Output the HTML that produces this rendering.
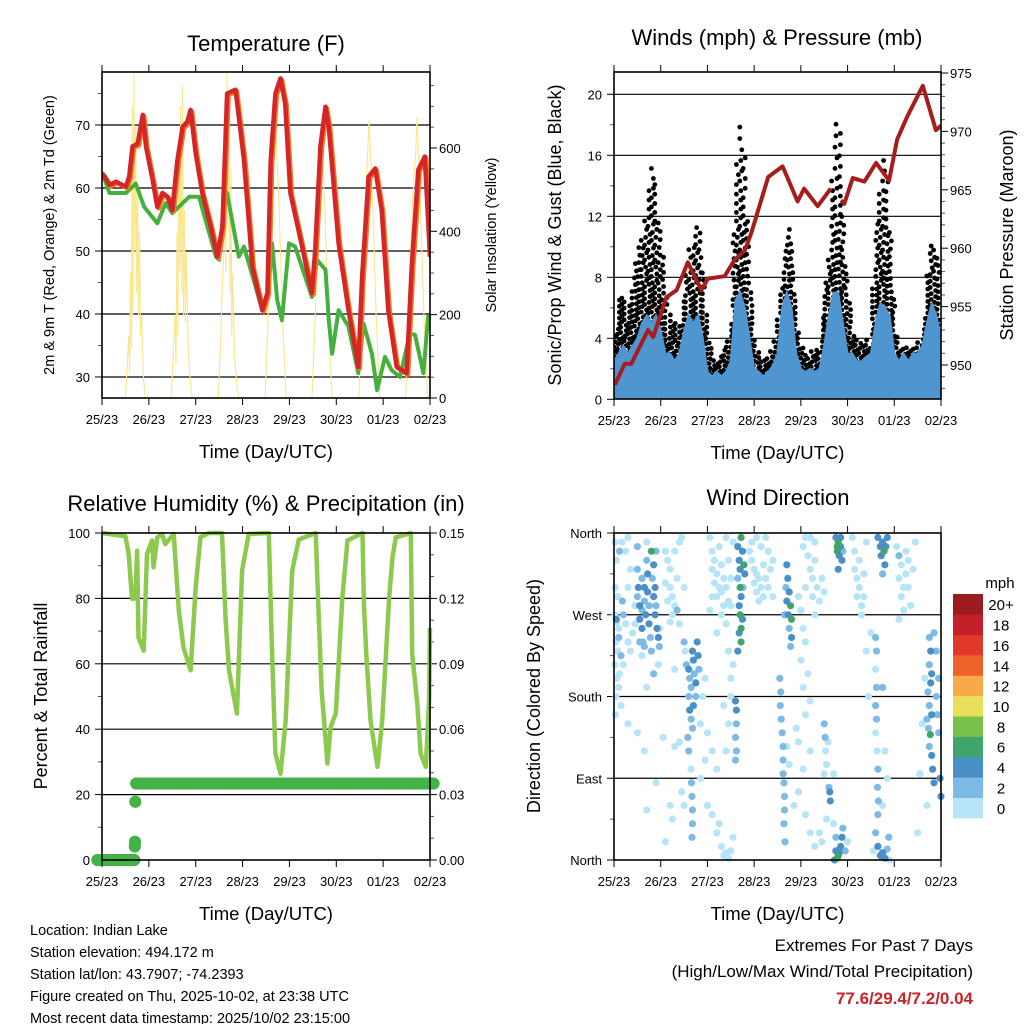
<!DOCTYPE html>
<html><head><meta charset="utf-8"><style>
html,body{margin:0;padding:0;background:#fff;}
svg{display:block;font-family:"Liberation Sans",Arial,sans-serif;}
</style></head><body>
<svg id="c" width="1024" height="1024" viewBox="0 0 1024 1024" xmlns="http://www.w3.org/2000/svg">
<defs>
<clipPath id="cp1"><rect x="102" y="72" width="328" height="326"/></clipPath>
<clipPath id="cp2"><rect x="614" y="72" width="327" height="327"/></clipPath>
<clipPath id="cp3"><rect x="90" y="520" width="350" height="350"/></clipPath>
<clipPath id="cp4"><rect x="610" y="529" width="335" height="335"/></clipPath>
</defs>
<g id="g1"></g>
<g id="g2"></g>
<g id="g3"></g>
<g id="g4"></g>
<g font-size="14.5" fill="#000">
<text x="30" y="935">Location: Indian Lake</text>
<text x="30" y="957">Station elevation: 494.172 m</text>
<text x="30" y="979">Station lat/lon: 43.7907; -74.2393</text>
<text x="30" y="1001">Figure created on Thu, 2025-10-02, at 23:38 UTC</text>
<text x="30" y="1023">Most recent data timestamp: 2025/10/02 23:15:00</text>
</g>
<g text-anchor="end">
<text x="973" y="951" font-size="17">Extremes For Past 7 Days</text>
<text x="973" y="977" font-size="17">(High/Low/Max Wind/Total Precipitation)</text>
<text x="973" y="1004" font-size="17" font-weight="bold" fill="#c8232a">77.6/29.4/7.2/0.04</text>
</g>
</svg>
<script>
// ---------- DATA ----------
const dayLabels = ["25/23","26/23","27/23","28/23","29/23","30/23","01/23","02/23"];
const tempT = [0.01,0.16,0.3,0.51,0.58,0.65,0.76,0.87,0.94,1.08,1.18,1.29,1.40,1.50,1.61,1.72,1.82,1.89,2.0,2.14,2.32,2.46,2.57,2.67,2.85,2.92,3.03,3.21,3.42,3.53,3.6,3.70,3.81,3.91,4.02,4.27,4.48,4.55,4.66,4.77,4.84,5.05,5.26,5.47,5.55,5.69,5.83,5.97,6.11,6.29,6.50,6.61,6.75,6.89,7.0];
const tempV = [62.3,60.5,61,60.2,61.8,66.6,67,71.6,66.6,61.3,57,59.2,58.6,56.5,64.4,69.7,70.5,72.4,65.5,59.2,53.9,49.1,53.9,75,75.6,71.3,64.4,47.5,40.6,43.3,64.4,75,77.4,73.4,59.2,50.7,43.3,50.2,66.6,72.9,69.7,51.2,40.6,31.6,45.9,61.8,63.1,56.5,40.6,31.6,30.6,47.5,62.9,65,49.1];
const dewT = [0.01,0.16,0.51,0.72,0.9,1.18,1.36,1.5,1.86,2.07,2.21,2.43,2.5,2.6,2.67,2.92,3.03,3.42,3.53,3.63,3.74,3.84,3.99,4.12,4.48,4.59,4.77,4.84,4.91,5.05,5.26,5.47,5.58,5.76,5.87,6.04,6.18,6.36,6.57,6.68,6.86,6.96];
const dewV = [62.3,59.2,59.2,60.7,57,54.4,57.6,56,58.6,58.6,54.9,49.1,48.6,56.5,59.2,49.1,50.7,40.6,42.2,51.2,42.2,39,51.2,50.7,42.7,48.6,47,39,33.7,40.6,38,30.6,38.5,33.7,27.9,33.2,31.1,30,36.9,36.7,30.6,39.6];
const solarT = [0.50,0.54,0.57,0.59,0.61,0.63,0.645,0.66,0.68,0.70,0.72,0.74,0.76,0.78,0.80,0.82,0.85,0.88,0.92,
 1.48,1.52,1.56,1.58,1.60,1.62,1.64,1.66,1.68,1.70,1.72,1.74,1.76,1.78,1.80,1.84,1.88,1.92,
 2.48,2.53,2.56,2.60,2.62,2.64,2.66,2.67,2.69,2.71,2.73,2.75,2.77,2.79,2.83,2.88,2.92,
 3.48,3.55,3.62,3.70,3.78,3.85,3.93,
 4.48,4.55,4.62,4.68,4.76,4.83,4.91,
 5.48,5.55,5.62,5.70,5.78,5.85,5.93,
 6.48,6.55,6.62,6.70,6.72,6.74,6.80,6.87,6.95];
const solarV = [0,80,150,60,300,120,700,200,780,350,650,250,500,200,400,150,200,60,0,
 0,100,200,80,400,150,550,300,700,250,750,200,450,180,350,120,50,0,
 0,120,250,350,500,300,650,780,400,700,250,550,150,300,100,30,0,
 0,200,460,671,460,200,0,
 0,190,440,645,440,190,0,
 0,200,460,667,460,200,0,
 0,200,460,600,675,620,450,200,0];
const windT = [];
for (let i = 0; i <= 70; i++) windT.push(i / 10);
const windV = [2.5,3,3.5,3,3.5,4,5,5.5,5,5.5,4.5,3,3,2.5,3,4.5,5.5,5,5.5,4,1.8,1.5,1.8,1.5,1.8,2.5,6.5,7,6,4,2,1.8,1.5,1.8,2.2,3,6,7,6,3,2,1.8,2,1.8,2,3.5,5.5,7,7,5,3,3,2.5,2.5,2.8,3,5,6.3,6,5.5,3,2.5,3,2.5,3,3,3.5,5,6.3,5.5,4];
const gustHi = [3.5,6.8,7,6,7.5,10,10.5,12.7,15.7,14,11,7,5.5,5,5,7,10,10.5,12.3,9,5,3,2.5,3,3.5,5,14,18.7,16,9,4,3,2.5,3,3.5,5,8,11.5,11,6,3.5,3,3,3.5,3,7,9,16.5,19.5,12,8,4.5,4,3.5,4,3.5,11,14,17,12,6,3.5,3.5,3.5,3.5,4,3.5,8,10.8,9.5,9];
const gustLo = [1.5,2,2,2,2,2.5,3,3,3,3,2.5,1,1,1,1,2,2,2,2,2,1,0.5,0.5,0.5,0.5,0.8,3,3,3,2,0.8,0.5,0.5,0.5,0.5,1,2.5,3,3,1.5,0.8,0.5,0.5,0.5,0.5,1,3,3,3,2.5,1.5,1.5,1.5,1.5,1.5,1.5,3,3,3,2.5,1,1,1,1,1,1,1.5,2.5,3,3,2.5];
const presT = [0.02,0.23,0.37,0.73,0.84,1.12,1.34,1.58,1.87,2.01,2.37,2.58,2.8,2.94,3.3,3.61,3.93,4.07,4.36,4.64];
const presV = [948.3,950.1,950.1,953,952.4,955.8,956.4,958.8,956.4,957.4,957.6,959,959.8,961.3,966.1,967,964,965.1,963.6,965.1];
const presT2 = [4.86,4.93,5.11,5.36,5.61,5.89,6.06,6.28,6.61,6.89,7.0];
const presV2 = [964.1,963.8,966,965.7,967.3,965.8,969.3,971.3,973.9,970.1,970.5];
const rhT = [0,0.5,0.57,0.64,0.71,0.75,0.78,0.89,0.96,1.07,1.1,1.18,1.28,1.35,1.53,1.64,1.74,1.89,2.0,2.1,2.28,2.56,2.64,2.71,2.88,2.99,3.13,3.56,3.63,3.7,3.81,3.92,4.06,4.2,4.56,4.63,4.69,4.74,4.81,4.88,4.99,5.13,5.24,5.56,5.59,5.64,5.73,5.88,5.98,6.13,6.2,6.27,6.59,6.62,6.73,6.8,6.91,6.98,7.0];
const rhV = [100,99,93.6,79.9,80,94.6,68,64,93.6,97.7,89.5,98.7,99.7,96.6,99.7,76.3,65,58,83.4,98.7,100,100,73,58,44.8,88.5,99.7,100,63,32.6,26.4,42.7,88.5,98,100,73,50.9,42.7,29.5,40.7,44.8,80.4,97.7,100,78.3,63,42.7,28.5,42.7,80.4,92.6,98.7,100,63,47.8,32.6,28.5,48.8,71];
const precipT = [-0.1,0.69,0.70,0.705,0.71,0.73,7.08];
const precipV = [0,0,0.0062,0.0084,0.0267,0.0351,0.0351];
const dirPts = [[0.02,350,1],[0.05,330,1],[0.03,300,1],[0.08,290,1],[0.02,270,1],[0.06,262,1],[0.1,255,1],[0.04,240,1],[0.08,230,1],[0.02,215,1],[0.12,205,1],[0.06,200,1],[0.1,190,1],[0.04,180,1],[0.15,170,1],[0.03,160,1],[0.25,340,1],[0.3,355,1],[0.35,320,1],[0.3,300,1],[0.18,285,3],[0.2,270,3],[0.25,260,1],[0.1,245,3],[0.15,225,3],[0.2,215,1],[0.3,240,1],[0.35,230,1],[0.05,265,5],[0.12,340,3],[0.17,350,1],
[0.5,345,3],[0.5,320,3],[0.52,300,5],[0.5,290,3],[0.55,280,5],[0.55,265,5],[0.6,275,3],[0.6,255,5],[0.62,240,3],[0.65,300,5],[0.65,285,3],[0.68,270,5],[0.7,330,3],[0.72,315,5],[0.72,295,5],[0.75,280,3],[0.75,260,5],[0.78,245,3],[0.8,340,7],[0.82,310,3],[0.85,325,5],[0.85,290,5],[0.88,300,5],[0.88,270,5],[0.9,280,3],[0.92,255,5],[0.95,245,5],[0.97,235,3],[0.8,230,3],[0.7,350,1],[0.9,340,3],[0.6,310,3],[0.98,255,1],[0.45,260,1],[0.4,250,1],[0.45,280,1],[0.55,240,3],[0.6,225,1],[0.65,235,3],[0.95,215,1],[0.7,190,1],[0.85,205,3],[0.3,150,1],[0.5,140,1],[0.65,120,1],[0.9,85,1],[0.7,55,1],
[1.1,340,1],[1.15,330,1],[1.2,320,1],[1.1,305,1],[1.2,300,1],[1.25,290,1],[1.15,285,1],[1.3,340,1],[1.35,310,1],[1.3,280,1],[1.4,350,1],[1.45,355,1],[1.25,270,1],[1.35,275,3],[1.2,262,1],[1.5,300,1],[1.4,260,1],
[1.5,240,3],[1.52,230,1],[1.55,215,3],[1.6,210,5],[1.62,200,3],[1.65,190,3],[1.68,230,5],[1.7,220,5],[1.72,205,3],[1.75,195,5],[1.75,180,3],[1.78,240,5],[1.8,225,5],[1.82,210,3],[1.6,180,3],[1.62,165,5],[1.65,155,3],[1.68,145,3],[1.7,170,5],[1.58,135,3],[1.6,120,3],[1.65,100,1],[1.66,85,3],[1.67,70,3],[1.68,55,3],[1.68,40,3],[1.67,25,3],[1.5,60,1],[1.45,75,1],[1.4,130,1],[1.3,125,1],[1.2,60,1],[1.25,45,1],[1.1,20,1],[1.05,135,1],[1.85,150,1],[1.9,180,1],[1.95,200,1],[1.85,90,1],[1.95,110,1],[1.3,210,1],
[2.05,355,1],[2.1,340,1],[2.15,330,1],[2.1,320,1],[2.2,315,1],[2.25,300,1],[2.2,290,1],[2.15,305,1],[2.3,325,1],[2.35,310,1],[2.3,295,1],[2.4,300,1],[2.45,285,1],[2.35,280,1],[2.25,345,1],[2.4,355,1],[2.45,330,1],[2.5,310,1],[2.1,290,1],[2.05,275,1],[2.3,270,1],[2.5,280,1],[2.55,350,1],[2.2,250,1],[2.4,260,1],
[2.65,345,5],[2.68,330,5],[2.7,320,5],[2.72,355,7],[2.65,310,3],[2.7,300,7],[2.72,290,5],[2.68,280,5],[2.7,270,7],[2.75,265,5],[2.72,255,7],[2.68,250,5],[2.72,240,7],[2.76,300,3],[2.75,340,5],[2.78,325,7],[2.8,315,5],[2.65,230,5],
[2.6,175,5],[2.62,165,5],[2.62,150,3],[2.6,135,3],[2.62,120,3],[2.6,110,3],[2.5,180,1],[2.45,150,1],[2.4,120,1],
[2.2,30,1],[2.3,15,1],[2.35,5,1],[2.4,8,1],[2.45,2,1],[2.5,10,1],[2.25,40,1],[2.0,60,1],[2.1,50,1],[2.55,25,1],[2.2,100,1],[2.1,120,1],[2.0,140,1],[2.35,170,1],[2.5,200,1],[2.55,215,1],[2.45,230,1],
[2.9,340,1],[2.95,330,1],[3.0,320,1],[3.05,315,1],[3.0,305,1],[3.1,310,1],[3.15,300,1],[3.05,295,1],[3.2,325,1],[3.25,310,1],[3.2,290,1],[3.1,285,1],[3.3,300,1],[3.35,320,1],[3.3,340,1],[2.95,350,1],[3.15,345,1],[3.4,330,1],[3.4,290,1],[3.05,355,1],[3.25,355,1],
[3.7,325,5],[3.72,310,5],[3.75,295,5],[3.7,285,5],[3.78,280,7],[3.73,270,5],[3.8,265,7],[3.75,255,3],[3.8,245,5],[3.78,235,3],[3.68,300,3],[3.65,270,3],
[3.55,200,3],[3.57,185,3],[3.56,170,3],[3.58,155,3],[3.6,140,3],[3.62,125,3],[3.62,110,3],[3.62,95,3],[3.64,85,3],[3.65,70,3],[3.65,55,3],[3.64,40,3],[3.66,20,3],[3.7,125,1],[3.75,105,1],
[3.95,290,1],[4.0,275,1],[4.05,255,1],[4.1,240,1],[4.0,220,1],[4.15,205,1],[4.05,190,1],[4.2,175,1],[4.1,160,1],[3.9,145,1],[3.95,130,1],[4.2,120,1],[4.05,100,1],[3.85,60,1],[3.95,75,1],[4.1,50,1],[4.2,30,1],[4.3,15,1],[4.3,270,1],[4.1,300,1],
[4.05,345,1],[4.1,355,1],[4.15,335,1],[4.2,320,1],[4.25,310,1],[4.3,330,1],[4.35,300,1],[4.25,290,1],[4.4,285,1],[4.45,310,1],[4.3,350,1],[4.2,355,1],[4.5,295,1],
[4.75,355,5],[4.78,345,7],[4.8,350,7],[4.82,335,5],[4.85,345,5],[4.88,330,5],[4.85,355,5],[4.9,340,3],[4.8,320,5],[4.78,340,7],
[4.5,150,3],[4.52,135,3],[4.53,120,1],[4.55,105,1],[4.5,95,1],[4.6,80,3],[4.62,75,5],[4.63,65,5],[4.58,130,1],[4.7,95,1],[4.55,45,1],[4.4,30,1],[4.45,20,1],
[4.75,10,5],[4.78,2,7],[4.8,5,7],[4.82,8,5],[4.85,15,5],[4.88,25,5],[4.9,35,3],[4.75,25,3],[4.72,0,5],[4.95,10,3],[4.7,40,1],[5.0,20,1],
[5.15,320,1],[5.2,310,1],[5.25,300,1],[5.2,290,1],[5.3,280,1],[5.35,290,1],[5.25,330,1],[5.15,340,1],[5.3,270,1],[5.4,350,1],[5.1,355,1],[5.35,315,1],
[5.65,355,5],[5.7,345,5],[5.75,350,5],[5.72,335,5],[5.78,340,7],[5.8,325,5],[5.75,315,3],[5.85,355,5],[5.82,345,5],
[5.6,245,3],[5.62,230,3],[5.6,210,1],[5.62,190,3],[5.6,170,3],[5.62,155,3],[5.6,140,1],[5.63,120,1],[5.65,100,3],[5.64,80,3],[5.66,65,3],[5.65,50,3],[5.5,250,1],[5.4,230,1],[5.45,180,1],[5.75,190,3],[5.8,120,1],[5.85,90,1],[5.75,60,1],
[5.65,15,5],[5.7,5,5],[5.75,8,5],[5.8,2,5],[5.85,12,3],[5.88,25,3],[5.6,30,3],[5.55,10,1],[5.9,0,1],
[6.05,345,1],[6.1,335,3],[6.15,325,1],[6.1,310,1],[6.2,300,1],[6.15,290,1],[6.25,315,1],[6.3,330,1],[6.2,275,1],[6.1,265,1],[6.35,280,1],[6.3,300,1],[6.4,320,1],[6.45,350,1],[6.25,340,1],
[6.75,245,3],[6.78,230,5],[6.75,215,3],[6.8,205,5],[6.78,195,5],[6.72,185,3],[6.75,170,3],[6.8,160,5],[6.7,155,3],[6.73,145,3],[6.77,138,7],[6.75,125,3],[6.8,115,5],[6.82,100,5],[6.85,85,5],[6.9,180,3],[6.92,160,3],[6.95,140,3],[6.98,90,5],[7.0,70,5],[6.65,200,1],[6.6,150,1],[6.55,95,1],[6.5,30,1],[6.7,60,1],[6.9,230,3],[6.95,200,3],[6.85,250,3]];
const speedLabels = ["0","2","4","6","8","10","12","14","16","18","20+"];
const speedColors = ["#b8e4f8","#7dbbe6","#4a8fc8","#3fa56a","#78c04a","#e8e05a","#f8a94a","#f0622b","#e0382b","#c4202a","#9b1b1e"];

// ---------- HELPERS ----------
const NS = "http://www.w3.org/2000/svg";
function mk(tag, attrs, parent) {
  const e = document.createElementNS(NS, tag);
  for (const k in attrs) e.setAttribute(k, attrs[k]);
  parent.appendChild(e);
  return e;
}
function txt(parent, x, y, s, size, anchor, rot) {
  const t = mk("text", {x: x, y: y, "font-size": size, "text-anchor": anchor || "middle", fill: "#000"}, parent);
  if (rot) t.setAttribute("transform", "rotate(" + rot + " " + x + " " + y + ")");
  t.textContent = s;
  return t;
}
function interp(T, V, t) {
  if (t <= T[0]) return V[0];
  for (let i = 1; i < T.length; i++) if (t <= T[i]) { const f = (t - T[i-1]) / (T[i] - T[i-1]); return V[i-1] + f * (V[i] - V[i-1]); }
  return V[V.length - 1];
}
function frame(g, P, name) {
  const r = mk("rect", {x: P.x0, y: P.y0, width: P.x1 - P.x0, height: P.y1 - P.y0, fill: "none", stroke: "#000", "stroke-width": 1.6}, g);
  
  
  for (let i = 0; i < dayLabels.length; i++) {
    const x = P.x0 + i * (P.x1 - P.x0) / 7;
    const t1 = mk("line", {x1: x, x2: x, y1: P.y0, y2: P.y0 - 7, stroke: "#000", "stroke-width": 1}, g);
    
    
    const t2 = mk("line", {x1: x, x2: x, y1: P.y1, y2: P.y1 + 7, stroke: "#000", "stroke-width": 1}, g);
    
    
    const l = txt(g, x, P.y1 + 26, dayLabels[i], 13);
    
    
  }
  const xt = txt(g, (P.x0 + P.x1) / 2, P.y1 + 60, "Time (Day/UTC)", 18.5);
  
  
}
function yAxis(g, P, vals, labels, yf, side, grid, minor) {
  for (let i = 0; i < vals.length; i++) {
    const y = yf(vals[i]);
    if (grid && y > P.y0 + 1 && y < P.y1 - 1) {
      const gl = mk("line", {x1: P.x0, x2: P.x1, y1: y, y2: y, stroke: "#000", "stroke-width": 1.2}, g);
      
      
    }
    const xx = side === "L" ? P.x0 : P.x1;
    const tk = mk("line", {x1: xx, x2: side === "L" ? xx - 7 : xx + 7, y1: y, y2: y, stroke: "#000", "stroke-width": 1}, g);
    
    
    const lb = txt(g, side === "L" ? xx - 12 : xx + 9, y + 5, labels[i], 13, side === "L" ? "end" : "start");
    
    
  }
  if (minor) for (const v of minor) {
    const y = yf(v);
    if (y < P.y0 || y > P.y1) continue;
    const xx = side === "L" ? P.x0 : P.x1;
    const mt = mk("line", {x1: xx, x2: side === "L" ? xx - 4 : xx + 4, y1: y, y2: y, stroke: "#555", "stroke-width": 1}, g);
    
    
  }
}
function polyPts(T, V, xf, yf) { return T.map((t, i) => xf(t).toFixed(1) + "," + yf(V[i]).toFixed(1)).join(" "); }

// ---------- PANEL 1: TEMPERATURE ----------
(function () {
  const g = document.getElementById("g1");
  const P = {x0: 102, x1: 430, y0: 72, y1: 398};
  const xf = d => P.x0 + d * (P.x1 - P.x0) / 7;
  const yT = v => 377 - (v - 30) * 6.3;
  const yS = v => 398 - v * 0.4167;
  const tt = txt(g, 266, 51, "Temperature (F)", 22);
  
  
  yAxis(g, P, [30, 40, 50, 60, 70], ["30", "40", "50", "60", "70"], yT, "L", true, [35, 45, 55, 65, 75]);
  yAxis(g, P, [0, 200, 400, 600], ["0", "200", "400", "600"], yS, "R", false, [50,100,150,250,300,350,450,500,550,650,700,750]);
  const c = mk("g", {"clip-path": "url(#cp1)"}, g);
  const sol = mk("polyline", {points: polyPts(solarT, solarV, xf, yS), fill: "none", stroke: "#fae78a", "stroke-width": 1.1}, c);
  
  
  const dew = mk("polyline", {points: polyPts(dewT, dewV, xf, yT), fill: "none", stroke: "#46b03f", "stroke-width": 4, "stroke-linejoin": "round", "stroke-linecap": "round"}, c);
  
  
  const t9 = mk("polyline", {points: polyPts(tempT, tempV, xf, yT), fill: "none", stroke: "#f47b20", "stroke-width": 4.5, "stroke-linejoin": "round", transform: "translate(1.5,1.5)"}, c);
  
  
  const t2 = mk("polyline", {points: polyPts(tempT, tempV, xf, yT), fill: "none", stroke: "#d42528", "stroke-width": 4.5, "stroke-linejoin": "round"}, c);
  
  
  const yl = txt(g, 54, 235, "2m & 9m T (Red, Orange) & 2m Td (Green)", 14.5, "middle", -90);
  
  
  const yr = txt(g, 496, 235, "Solar Insolation (Yellow)", 14.5, "middle", -90);
  
  
  frame(g, P, "temperature");
})();

// ---------- PANEL 2: WINDS ----------
(function () {
  const g = document.getElementById("g2");
  const P = {x0: 614, x1: 941, y0: 72, y1: 399};
  const xf = d => P.x0 + d * (P.x1 - P.x0) / 7;
  const yW = v => 399.3 - v * 15.25;
  const yP = p => 365 - (p - 950) * 11.68;
  const tt = txt(g, 777, 45, "Winds (mph) & Pressure (mb)", 22);
  
  
  yAxis(g, P, [0, 4, 8, 12, 16, 20], ["0", "4", "8", "12", "16", "20"], yW, "L", true, [2, 6, 10, 14, 18]);
  yAxis(g, P, [950, 955, 960, 965, 970, 975], ["950", "955", "960", "965", "970", "975"], yP, "R", false, [948,949,951,952,953,954,956,957,958,959,961,962,963,964,966,967,968,969,971,972,973,974]);
  const c = mk("g", {"clip-path": "url(#cp2)"}, g);
  const dots = mk("g", {fill: "#000"}, c);
  
  
  let k = 0;
  for (let x = P.x0 + 1; x <= P.x1; x += 3.4) {
    const d = (x - P.x0) * 7 / (P.x1 - P.x0);
    const hi = interp(windT, gustHi, d), lo = interp(windT, gustLo, d);
    const yTop = yW(hi), yBot = yW(lo);
    k++;
    let y = yBot - (k % 3) * 1.5;
    let step = 4;
    while (y >= yTop) {
      const dt = mk("circle", {cx: (x + ((k + Math.round(y)) % 3) - 1).toFixed(1), cy: y.toFixed(1), r: 2.4}, dots);
      
      
      step = 4 + (yBot - y) * 0.035;
      y -= step;
    }
  }
  const pts = [xf(windT[0]) + "," + yW(0)];
  windT.forEach((t, i) => pts.push(xf(t).toFixed(1) + "," + yW(windV[i]).toFixed(1)));
  pts.push(xf(windT[windT.length - 1]) + "," + yW(0));
  const wa = mk("polygon", {points: pts.join(" "), fill: "#4f95d0", stroke: "#4f95d0", "stroke-width": 2}, c);
  
  
  const p1 = mk("polyline", {points: polyPts(presT, presV, xf, yP), fill: "none", stroke: "#a51d1d", "stroke-width": 4, "stroke-linejoin": "round"}, c);
  
  
  const p2 = mk("polyline", {points: polyPts(presT2, presV2, xf, yP), fill: "none", stroke: "#a51d1d", "stroke-width": 4, "stroke-linejoin": "round"}, c);
  
  
  const yl = txt(g, 561, 235, "Sonic/Prop Wind & Gust (Blue, Black)", 18, "middle", -90);
  
  
  const yr = txt(g, 1013, 235, "Station Pressure (Maroon)", 18, "middle", -90);
  
  
  frame(g, P, "winds");
})();

// ---------- PANEL 3: RH & PRECIP ----------
(function () {
  const g = document.getElementById("g3");
  const P = {x0: 102, x1: 430, y0: 533, y1: 860};
  const xf = d => P.x0 + d * (P.x1 - P.x0) / 7;
  const yR = v => 860 - v * 3.27;
  const yPr = v => 860 - v / 0.15 * 327;
  const tt = txt(g, 266, 511, "Relative Humidity (%) & Precipitation (in)", 22);
  
  
  yAxis(g, P, [0, 20, 40, 60, 80, 100], ["0", "20", "40", "60", "80", "100"], yR, "L", true, [10, 30, 50, 70, 90]);
  yAxis(g, P, [0, 0.03, 0.06, 0.09, 0.12, 0.15], ["0.00", "0.03", "0.06", "0.09", "0.12", "0.15"], yPr, "R", false, [0.01,0.02,0.04,0.05,0.07,0.08,0.10,0.11,0.13,0.14]);
  const c = mk("g", {"clip-path": "url(#cp3)"}, g);
  const rh = mk("polyline", {points: polyPts(rhT, rhV, xf, yR), fill: "none", stroke: "#8dc94e", "stroke-width": 4.5, "stroke-linejoin": "round"}, c);
  
  
  const pg = mk("g", {fill: "#44b347"}, c);
  
  
  for (let i = 0; i < precipT.length - 1; i++) {
    const a = precipT[i], b = precipT[i + 1];
    const n = Math.max(1, Math.round((b - a) / 0.02));
    for (let j = 0; j <= n; j++) {
      const t = a + (b - a) * j / n;
      const v = precipV[i] + (precipV[i + 1] - precipV[i]) * j / n;
      const cc = mk("circle", {cx: xf(t).toFixed(1), cy: yPr(v).toFixed(1), r: 6}, pg);
      
      
    }
  }
  const yl = txt(g, 47, 696, "Percent & Total Rainfall", 18, "middle", -90);
  
  
  frame(g, P, "humidity");
})();

// ---------- PANEL 4: WIND DIRECTION ----------
(function () {
  const g = document.getElementById("g4");
  const P = {x0: 614, x1: 941, y0: 533, y1: 860};
  const xf = d => P.x0 + d * (P.x1 - P.x0) / 7;
  const yD = v => 860 - v * 327 / 360;
  const tt = txt(g, 778, 505, "Wind Direction", 22);
  
  
  yAxis(g, P, [0, 90, 180, 270, 360], ["North", "East", "South", "West", "North"], yD, "L", true, [45, 135, 225, 315]);
  const c = mk("g", {"clip-path": "url(#cp4)"}, g);
  const order = dirPts.slice().sort((a, b) => a[2] - b[2]);
  for (const p of order) {
    const bin = Math.min(10, Math.floor(p[2] / 2));
    const dc = mk("circle", {cx: xf(p[0]).toFixed(1), cy: yD(p[1]).toFixed(1), r: 3.6, fill: speedColors[bin]}, c);
    
    
  }
  const yl = txt(g, 540, 696, "Direction (Colored By Speed)", 18, "middle", -90);
  
  
  frame(g, P, "wind-direction");
  const cb = mk("g", {}, g);
  
  
  const mu = txt(cb, 1000, 588, "mph", 15);
  
  
  const h = (818 - 594) / 11;
  for (let i = 0; i < 11; i++) {
    const y = 818 - (i + 1) * h;
    const r = mk("rect", {x: 953, y: y.toFixed(1), width: 30, height: (h + 0.3).toFixed(1), fill: speedColors[i]}, cb);
    
    
    const l = txt(cb, 1001, y + h / 2 + 6, speedLabels[i], 15);
    
    
  }
})();
</script>
</body></html>
